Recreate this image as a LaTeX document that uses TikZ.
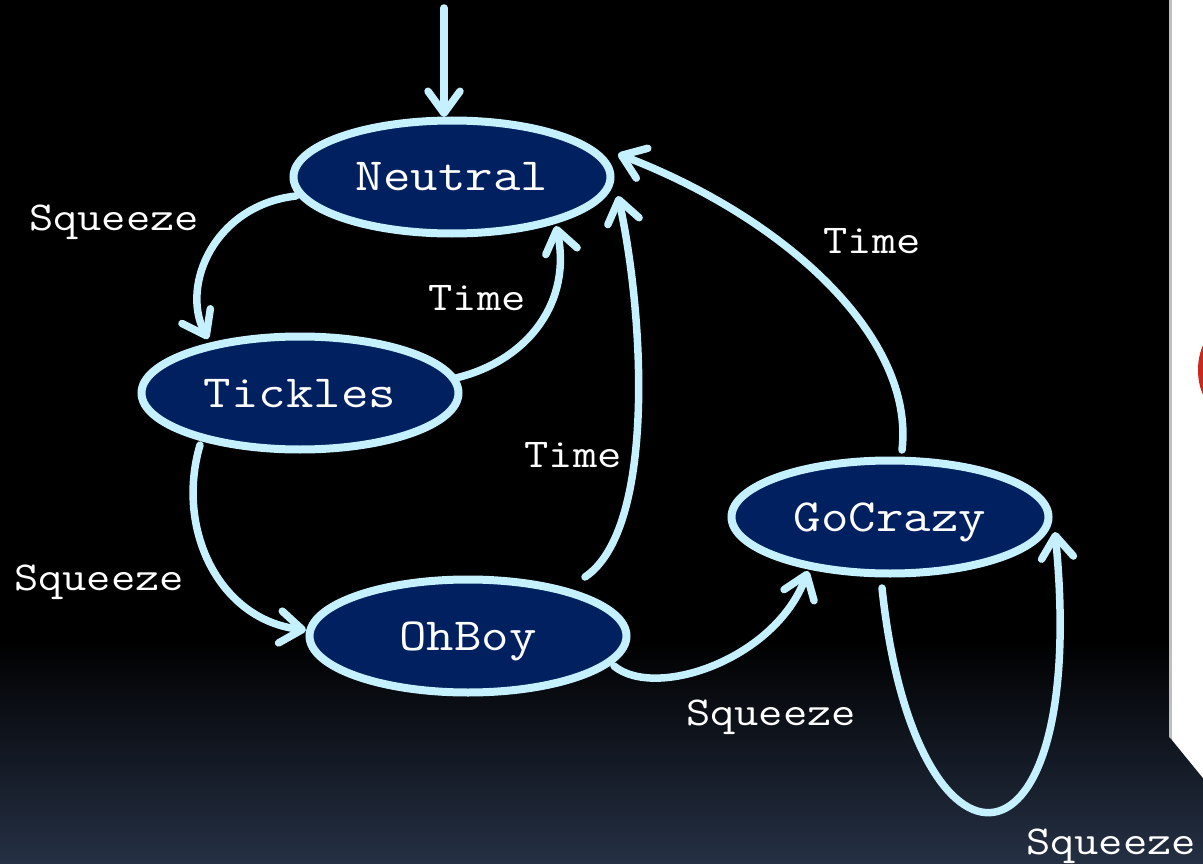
\documentclass[tikz,border=0pt]{standalone}
\usepackage{graphicx}
\usetikzlibrary{shapes.geometric,arrows.meta}
\definecolor{edgecyan}{RGB}{196,240,255}
\definecolor{statefill}{RGB}{0,32,96}
\definecolor{bgbottom}{RGB}{37,48,68}
\definecolor{pagered}{RGB}{200,40,30}
\definecolor{pageedge}{RGB}{190,190,190}

\begin{document}
\begin{tikzpicture}[x=1pt,y=-1pt,
  state/.style={ellipse, draw=edgecyan, line width=8pt, fill=statefill,
    minimum width=317pt, minimum height=113pt, inner sep=0pt, text=white,
    font=\fontsize{46}{50}\selectfont\ttfamily, text height=28pt, text depth=0pt},
  lbl/.style={text=white, font=\fontsize{41}{45}\selectfont\ttfamily,
    inner sep=0pt, text height=25pt, text depth=0pt},
  trans/.style={draw=edgecyan, line width=7.5pt, line cap=round,
    -{Straight Barb[length=22pt,width=32pt,round]}}
]
\useasboundingbox (0,0) rectangle (1203,864);

% backdrop: black fading into dark slate at the bottom
\fill[black] (0,0) rectangle (1203,641);
\shade[top color=black, bottom color=bgbottom] (0,640) rectangle (1203,864);

% edge of the next page on the right
\fill[pageedge] (1169,0) -- (1172,0) -- (1172,740) -- (1169,737) -- cycle;
\fill[white] (1172,0) -- (1203,0) -- (1203,778) -- (1172,740) -- cycle;
\begin{scope}
  \clip (1172,0) rectangle (1203,864);
  \fill[pagered] (1224,370) ellipse [x radius=26, y radius=42];
\end{scope}

% states
\node[state] (neutral) at (452,177) {\scalebox{1.16}[1]{Neutral}};
\node[state] (tickles) at (300,393) {\scalebox{1.16}[1]{Tickles}};
\node[state] (ohboy)   at (468,636) {\scalebox{1.16}[1]{OhBoy}};
\node[state] (gocrazy) at (890,517) {\scalebox{1.16}[1]{GoCrazy}};

% entry arrow
\coordinate (entry) at (444,8);
\draw[trans] (entry) -- ([shift={(-8,-60)}]neutral.center);

% transitions
\draw[trans] ([shift={(-156,19)}]neutral.center)
  .. controls (215,205) and (180,285) .. ([shift={(-92,-54)}]tickles.center);
\draw[trans] ([shift={(156,-15)}]tickles.center)
  .. controls (530,360) and (572,300) .. ([shift={(104,49)}]neutral.center);
\draw[trans] ([shift={(-100,52)}]tickles.center)
  .. controls (175,530) and (220,620) .. ([shift={(-162,-6)}]ohboy.center);
\draw[trans] ([shift={(117,-59)}]ohboy.center)
  .. controls (655,530) and (645,320) .. ([shift={(166,19)}]neutral.center);
\draw[trans] ([shift={(146,30)}]ohboy.center)
  .. controls (655,700) and (775,660) .. ([shift={(-82,54)}]gocrazy.center);
\draw[trans] ([shift={(12,-67)}]gocrazy.center)
  .. controls (915,340) and (790,220) .. ([shift={(166,-23)}]neutral.center);
\draw[trans] ([shift={(-8,71)}]gocrazy.center)
  .. controls (915,900) and (1090,890) .. ([shift={(165,15)}]gocrazy.center);

% transition labels
\node[lbl] (sq1) at (114,218) {\scalebox{1.15}[1]{Squeeze}};
\node[lbl] (tm1) at (477,298) {\scalebox{1.15}[1]{Time}};
\node[lbl] (tm2) at (573,455) {\scalebox{1.15}[1]{Time}};
\node[lbl] (tm3) at (872,241) {\scalebox{1.15}[1]{Time}};
\node[lbl] (sq2) at (99,578)  {\scalebox{1.15}[1]{Squeeze}};
\node[lbl] (sq3) at (771,713) {\scalebox{1.15}[1]{Squeeze}};
\node[lbl] (sq4) at (1111,842) {\scalebox{1.15}[1]{Squeeze}};
\end{tikzpicture}
\end{document}
